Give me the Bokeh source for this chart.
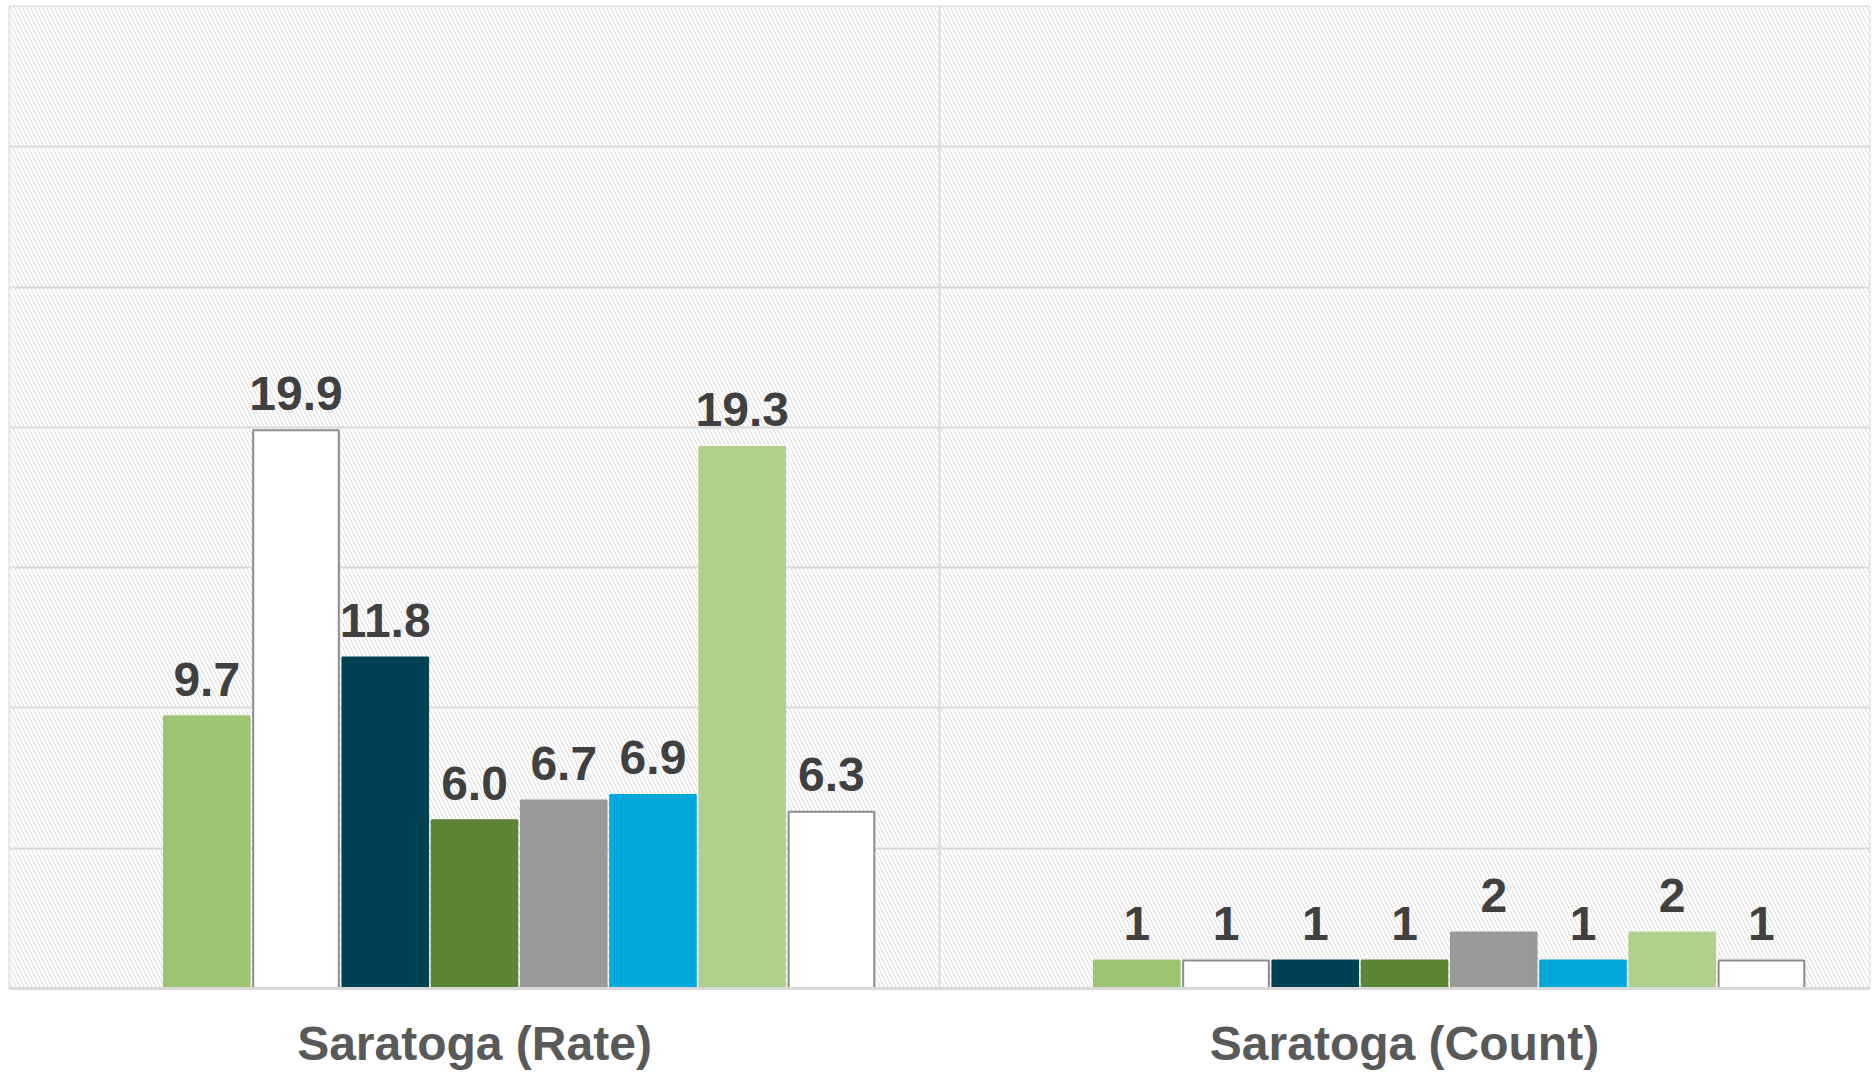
from bokeh.plotting import figure
from bokeh.models import ColumnDataSource, FixedTicker, BoxAnnotation, Range1d
from bokeh.core.properties import value
from bokeh.embed import file_html
from bokeh.resources import INLINE

# ---- data ----
groups = ["Saratoga (Rate)", "Saratoga (Count)"]
series = ["S0", "S1", "S2", "S3", "S4", "S5", "S6", "S7", "S8"]
rate_values = [None, 9.7, 19.9, 11.8, 6.0, 6.7, 6.9, 19.3, 6.3]
count_values = [None, 1, 1, 1, 1, 2, 1, 2, 1]
series_colors = ["#FFFFFF", "#9DC470", "#FFFFFF", "#004254", "#5E8535",
                 "#999999", "#00A9DB", "#B0D08E", "#FFFFFF"]
series_lines = [None, None, "#8C8C8C", None, None, None, None, None, "#8C8C8C"]
y_ticks = [0, 5, 10, 15, 20, 25, 30, 35]

n = len(series)
slot = 0.8636 / n
bar_w = slot * 0.96

p = figure(width=1874, height=1072, output_backend="svg", toolbar_location=None,
           x_range=Range1d(-0.5, 1.5), y_range=Range1d(0, 35),
           min_border_left=9, min_border_right=5, min_border_top=6, min_border_bottom=84)

# hatched background
p.add_layout(BoxAnnotation(fill_color="white", fill_alpha=1.0, line_color=None,
                           hatch_pattern="left_diagonal_line", hatch_color="#DADADA",
                           hatch_scale=8, hatch_weight=1, level="image"))

p.background_fill_color = "white"
p.border_fill_color = "white"
p.outline_line_color = "#D9D9D9"
p.outline_line_width = 2

p.ygrid.ticker = FixedTicker(ticks=y_ticks)
p.ygrid.grid_line_color = "#D9D9D9"
p.ygrid.grid_line_width = 2
p.xgrid.ticker = FixedTicker(ticks=[0.5])
p.xgrid.grid_line_color = "#D9D9D9"
p.xgrid.grid_line_width = 2

p.yaxis.visible = False
p.xaxis.ticker = FixedTicker(ticks=[0, 1])
p.xaxis.major_label_overrides = {0: groups[0], 1: groups[1]}
p.xaxis.major_tick_line_color = None
p.xaxis.minor_tick_line_color = None
p.xaxis.axis_line_color = "#D9D9D9"
p.xaxis.axis_line_width = 3
p.xaxis.major_label_text_font = "Liberation Sans"
p.xaxis.major_label_text_font_style = "bold"
p.xaxis.major_label_text_font_size = "48px"
p.xaxis.major_label_text_color = "#595959"
p.xaxis.major_label_standoff = 22

xs, tops, fills, lines, labels = [], [], [], [], []
for gi, vals in enumerate([rate_values, count_values]):
    for si in range(n):
        v = vals[si]
        if v is None:
            continue
        x = gi - 0.4318 + slot * (si + 0.5)
        xs.append(x)
        tops.append(v)
        fills.append(series_colors[si])
        lines.append(series_lines[si] if series_lines[si] else series_colors[si])
        labels.append(f"{v:.1f}" if gi == 0 else f"{v:d}")

src = ColumnDataSource(dict(x=xs, top=tops, fill=fills, line=lines, label=labels))
p.vbar(x="x", top="top", bottom=0, width=bar_w, fill_color="fill",
       line_color="line", line_width=2, source=src)
p.text(x="x", y="top", text="label", source=src, text_align="center",
       text_baseline="alphabetic", y_offset=-37,
       text_font=value("Liberation Sans"), text_font_style="bold",
       text_font_size="48px", text_color="#404040")

open("out.html", "w").write(file_html(p, INLINE))
